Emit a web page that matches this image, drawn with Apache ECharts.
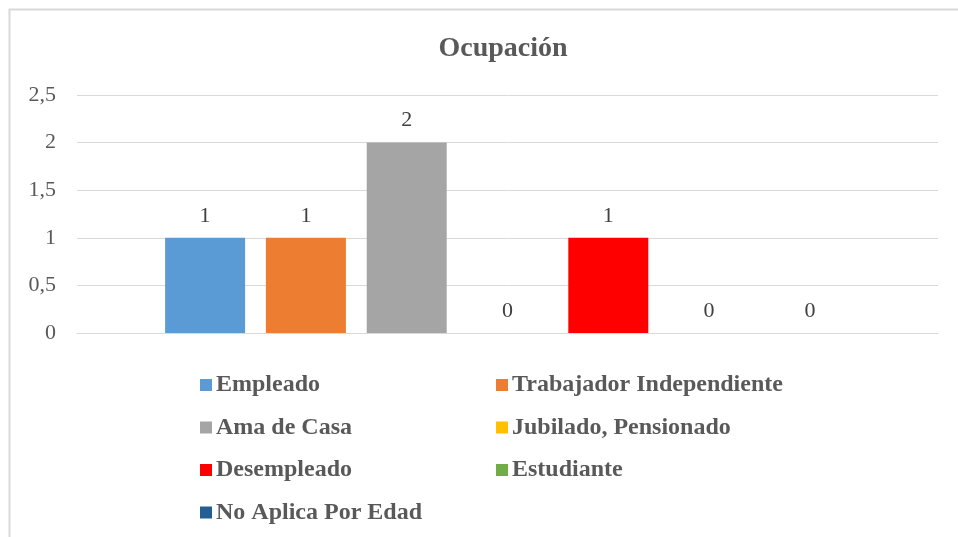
<!DOCTYPE html>
<html lang="es">
<head>
    <meta charset="UTF-8">
    <title>Ocupación</title>
    <script src="https://cdn.jsdelivr.net/npm/echarts@6/dist/echarts.min.js"></script>
    <style>
        html, body { margin: 0; padding: 0; background: #fff; }
        #main { width: 958px; height: 537px; }
    </style>
</head>
<body>
<div id="main"></div>
<script>
    // datos del gráfico
    let categorias = ['Ocupación'];
    let seriesNombres = ['Empleado', 'Trabajador Independiente', 'Ama de Casa', 'Jubilado, Pensionado',
        'Desempleado', 'Estudiante', 'No Aplica Por Edad'];
    let valores = [1, 1, 2, 0, 1, 0, 0];
    let colores = ['#5b9bd5', '#ed7d31', '#a5a5a5', '#ffc000', '#ff0000', '#70ad47', '#255e91'];
    let ticksY = [0, 0.5, 1, 1.5, 2, 2.5];

    let fuente = "'Times New Roman', 'Liberation Serif', 'DejaVu Serif', serif";
    let myChart = echarts.init(document.getElementById('main'));

    let series = [];
    for (let i = 0; i < seriesNombres.length; i++) {
        series.push({
            name: seriesNombres[i],
            type: 'bar',
            barWidth: 80,
            barGap: '26%',
            itemStyle: {color: colores[i]},
            label: {
                show: true,
                position: 'top',
                distance: 11,
                fontFamily: fuente,
                fontSize: 22,
                color: '#404040'
            },
            data: [valores[i]]
        });
    }

    let legendaBase = {
        orient: 'vertical',
        icon: 'rect',
        itemWidth: 12,
        itemHeight: 12,
        itemGap: 18.5,
        selectedMode: false,
        textStyle: {
            fontFamily: fuente,
            fontSize: 24,
            fontWeight: 'bold',
            color: '#595959',
            lineHeight: 24,
            padding: [0, 0, 0, -1]
        }
    };

    let option = {
        color: colores,
        animation: false,
        textStyle: {fontFamily: fuente},
        title: {
            text: 'Ocupación',
            left: 498,
            top: 30,
            textAlign: 'center',
            textStyle: {
                fontFamily: fuente,
                fontSize: 28,
                fontWeight: 'bold',
                color: '#595959'
            }
        },
        graphic: [{
            type: 'rect',
            shape: {x: 9.5, y: 9.5, width: 1000, height: 600},
            style: {fill: null, stroke: '#d9d9d9', lineWidth: 2},
            silent: true
        }],
        legend: [
            Object.assign({}, legendaBase, {
                left: 195,
                top: 368,
                data: [seriesNombres[0], seriesNombres[2], seriesNombres[4], seriesNombres[6]]
            }),
            Object.assign({}, legendaBase, {
                left: 491,
                top: 368,
                data: [seriesNombres[1], seriesNombres[3], seriesNombres[5]]
            })
        ],
        grid: {
            left: 77,
            right: 20,
            top: 95,
            bottom: 204
        },
        xAxis: {
            type: 'category',
            data: categorias,
            axisLine: {lineStyle: {color: '#d9d9d9', width: 1}},
            axisTick: {show: false},
            axisLabel: {show: false}
        },
        yAxis: {
            type: 'value',
            min: ticksY[0],
            max: ticksY[ticksY.length - 1],
            interval: 0.5,
            axisLine: {show: false},
            axisTick: {show: false},
            splitLine: {lineStyle: {color: '#d9d9d9', width: 1}},
            axisLabel: {
                margin: 21,
                fontFamily: fuente,
                fontSize: 22,
                color: '#595959',
                formatter: function (v) {
                    return String(v).replace('.', ',');
                }
            }
        },
        series: series
    };

    myChart.setOption(option);
</script>
</body>
</html>
